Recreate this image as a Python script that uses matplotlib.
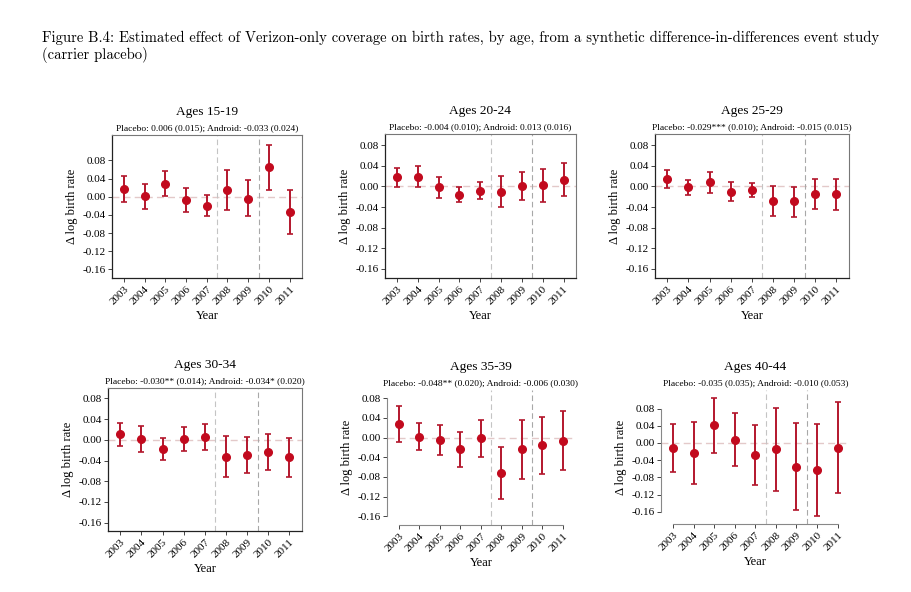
import matplotlib.pyplot as plt
import numpy as np

plt.rcParams.update({'font.family': ['Liberation Serif', 'DejaVu Serif']})

years = [2003, 2004, 2005, 2006, 2007, 2008, 2009, 2010, 2011]
ages = ['15-19', '20-24', '25-29', '30-34', '35-39', '40-44']
subtitles = [
    'Placebo: 0.006 (0.015); Android: -0.033 (0.024)',
    'Placebo: -0.004 (0.010); Android: 0.013 (0.016)',
    'Placebo: -0.029*** (0.010); Android: -0.015 (0.015)',
    'Placebo: -0.030** (0.014); Android: -0.034* (0.020)',
    'Placebo: -0.048** (0.020); Android: -0.006 (0.030)',
    'Placebo: -0.035 (0.035); Android: -0.010 (0.053)',
]

# point estimates and confidence bounds
est_15_19 = [0.017, 0.002, 0.028, -0.007, -0.020, 0.015, -0.004, 0.065, -0.033]
lo_15_19 = [-0.012, -0.026, 0.001, -0.034, -0.043, -0.029, -0.043, 0.015, -0.083]
hi_15_19 = [0.046, 0.029, 0.056, 0.020, 0.004, 0.058, 0.036, 0.114, 0.014]

est_20_24 = [0.018, 0.019, -0.002, -0.016, -0.008, -0.011, 0.001, 0.002, 0.013]
lo_20_24 = [-0.001, -0.001, -0.022, -0.031, -0.025, -0.040, -0.027, -0.030, -0.019]
hi_20_24 = [0.036, 0.039, 0.018, -0.001, 0.008, 0.020, 0.029, 0.033, 0.046]

est_25_29 = [0.014, -0.001, 0.008, -0.010, -0.007, -0.028, -0.029, -0.014, -0.015]
lo_25_29 = [-0.003, -0.016, -0.013, -0.029, -0.020, -0.057, -0.059, -0.044, -0.045]
hi_25_29 = [0.032, 0.013, 0.029, 0.008, 0.007, 0.001, -0.001, 0.014, 0.014]

est_30_34 = [0.011, 0.001, -0.017, 0.002, 0.006, -0.033, -0.029, -0.024, -0.034]
lo_30_34 = [-0.012, -0.023, -0.038, -0.022, -0.019, -0.072, -0.065, -0.059, -0.072]
hi_30_34 = [0.033, 0.026, 0.004, 0.025, 0.030, 0.008, 0.006, 0.011, 0.004]

est_35_39 = [0.028, 0.001, -0.005, -0.024, -0.001, -0.073, -0.024, -0.016, -0.006]
lo_35_39 = [-0.009, -0.026, -0.036, -0.060, -0.039, -0.126, -0.084, -0.075, -0.066]
hi_35_39 = [0.064, 0.029, 0.025, 0.011, 0.035, -0.019, 0.035, 0.043, 0.054]

est_40_44 = [-0.012, -0.023, 0.041, 0.008, -0.028, -0.015, -0.055, -0.062, -0.011]
lo_40_44 = [-0.067, -0.095, -0.024, -0.054, -0.098, -0.112, -0.155, -0.170, -0.116]
hi_40_44 = [0.044, 0.049, 0.105, 0.069, 0.042, 0.081, 0.046, 0.045, 0.095]

estimates = [est_15_19, est_20_24, est_25_29, est_30_34, est_35_39, est_40_44]
lowers = [lo_15_19, lo_20_24, lo_25_29, lo_30_34, lo_35_39, lo_40_44]
uppers = [hi_15_19, hi_20_24, hi_25_29, hi_30_34, hi_35_39, hi_40_44]

# axes boxes in pixels (left, top, right, bottom), y limits per panel
boxes = [(112, 135, 302, 278), (385, 134, 576, 278), (655, 134, 849, 278),
         (108, 388, 302, 531), (387, 390, 575, 525), (661, 390, 850, 524)]
ylims = [(-0.179, 0.136), (-0.178, 0.102), (-0.178, 0.102),
         (-0.176, 0.100), (-0.178, 0.097), (-0.188, 0.123)]
boxed = [True, True, True, True, False, False]

W, H = 912, 592
fig = plt.figure(figsize=(W / 100, H / 100), dpi=100)

cap_font = ['cmr10', 'DejaVu Serif']
fig.text(42 / W, 1 - 38 / H,
         'Figure B.4: Estimated effect of Verizon-only coverage on birth rates, by age, '
         'from a synthetic difference-in-differences event study',
         family=cap_font, fontsize=10.6, va='center', ha='left')
fig.text(42 / W, 1 - 55 / H, '(carrier placebo)',
         family=cap_font, fontsize=10.6, va='center', ha='left')

red = '#c20a1e'
yticks = np.arange(-0.16, 0.081, 0.04)

for i in range(6):
    l, t, r, b = boxes[i]
    ax = fig.add_axes([l / W, 1 - b / H, (r - l) / W, (b - t) / H])
    est = np.array(estimates[i])
    err = [est - np.array(lowers[i]), np.array(uppers[i]) - est]

    ax.axhline(0, color='#e3c9c9', lw=1.0, ls=(0, (5, 3)), zorder=1)
    ax.axvline(2007.5, color='#c4c4c4', lw=0.8, ls=(0, (5, 3)), zorder=1)
    ax.axvline(2009.5, color='#a8a8a8', lw=0.8, ls=(0, (5, 3)), zorder=1)
    ax.errorbar(years, est, yerr=err, fmt='o', color=red, ecolor='#b3162c',
                elinewidth=1.4, capsize=2.5, capthick=1.2, markersize=5.5, zorder=3)

    ax.set_xlim(2002.42, 2011.6)
    ax.set_ylim(*ylims[i])
    ax.set_xticks(years)
    ax.set_xticklabels([str(y) for y in years], rotation=45, ha='right',
                       rotation_mode='anchor', fontsize=8)
    ax.set_yticks(yticks)
    ax.set_yticklabels([f'{v:.2f}'.replace('-0.00', '0.00') for v in yticks], fontsize=8)
    ax.tick_params(direction='out', length=3, width=0.7, color='#444444', pad=1.5)

    if boxed[i]:
        for s in ['top', 'right']:
            ax.spines[s].set_color('#777777')
            ax.spines[s].set_linewidth(0.8)
        for s in ['left', 'bottom']:
            ax.spines[s].set_color('#222222')
            ax.spines[s].set_linewidth(0.9)
    else:
        ax.spines['top'].set_visible(False)
        ax.spines['right'].set_visible(False)
        ax.spines['left'].set_bounds(-0.16, 0.08)
        ax.spines['bottom'].set_bounds(2003, 2011)
        for s in ['left', 'bottom']:
            ax.spines[s].set_color('#888888')
            ax.spines[s].set_linewidth(0.8)

    ax.set_ylabel('\u0394 log birth rate', fontsize=9, labelpad=3)
    ax.set_xlabel('Year', fontsize=9, labelpad=3)

    cx = (l + r) / 2 / W
    fig.text(cx, 1 - (t - 23) / H, 'Ages ' + ages[i], ha='center', va='center', fontsize=9.6)
    fig.text(cx, 1 - (t - 3) / H, subtitles[i], ha='center', va='bottom', fontsize=6.8)

fig.savefig('out.png', dpi=100)
